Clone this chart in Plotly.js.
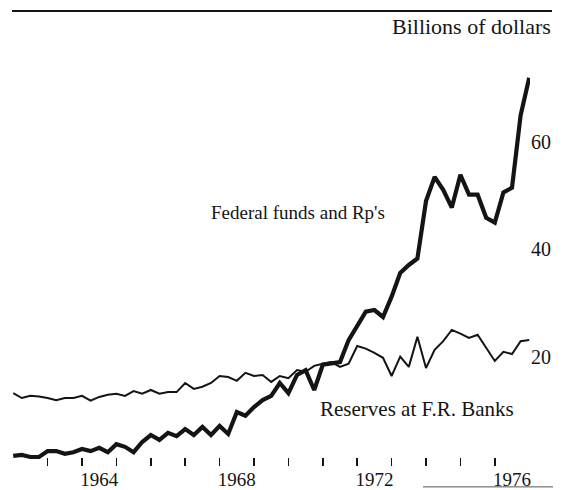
<!DOCTYPE html>
<html>
<head>
<meta charset="utf-8">
<script src="https://cdn.plot.ly/plotly-3.0.1.min.js"></script>
<style>
  html, body { margin: 0; padding: 0; background: #fff; }
  #chart { width: 566px; height: 490px; }
</style>
</head>
<body>
<div id="chart"></div>
<script>
// quarterly observations, 1962 Q1 .. 1977 Q1, billions of dollars
const START_YEAR = 1962;
const fedFunds = [
  1.5, 1.7, 1.3, 1.3, 2.4, 2.4, 1.9, 2.2, 2.8, 2.4,
  3.0, 2.2, 3.7, 3.2, 2.2, 4.1, 5.4, 4.5, 5.8, 5.2,
  6.5, 5.4, 6.9, 5.4, 7.1, 5.6, 9.7, 9.0, 10.6, 11.9,
  12.7, 15.1, 13.2, 16.6, 17.5, 13.8, 18.5, 18.8, 19.0, 23.1,
  25.6, 28.4, 28.7, 27.4, 31.2, 35.6, 37.1, 38.3, 49.0, 53.5,
  51.1, 47.8, 53.9, 50.2, 50.2, 45.9, 45.0, 50.6, 51.5, 65.0,
  72.0
];
const reserves = [
  13.2, 12.3, 12.7, 12.6, 12.3, 11.9, 12.3, 12.3, 12.7, 11.8,
  12.5, 12.9, 13.1, 12.7, 13.6, 13.1, 13.8, 13.1, 13.4, 13.4,
  15.1, 14.0, 14.4, 15.1, 16.4, 16.2, 15.5, 17.0, 16.4, 16.6,
  15.3, 16.4, 16.0, 17.5, 17.2, 18.3, 18.7, 19.0, 18.1, 18.7,
  22.0, 21.5, 20.7, 19.8, 16.4, 20.0, 18.1, 23.7, 17.9, 21.3,
  22.9, 25.0, 24.3, 23.5, 24.1, 21.6, 19.2, 20.9, 20.5, 22.9,
  23.1
];
const yearTicks = [1963, 1964, 1965, 1966, 1967, 1968, 1969, 1970, 1971, 1972, 1973, 1974, 1975, 1976];
const yearLabels = ['1964', '1968', '1972', '1976'];
const valueTicks = [20, 40, 60];

const dates = fedFunds.map((_, i) => START_YEAR + i / 4);
const FONT = 'Liberation Serif, Times New Roman, serif';
const INK = '#141414';

const traces = [
  { x: dates, y: reserves, type: 'scatter', mode: 'lines',
    line: { color: INK, width: 2 }, hoverinfo: 'skip' },
  { x: dates, y: fedFunds, type: 'scatter', mode: 'lines',
    line: { color: INK, width: 4.2 }, hoverinfo: 'skip' },
  // invisible carrier for the year labels on the second x axis
  { x: dates, y: fedFunds, xaxis: 'x2', type: 'scatter', mode: 'lines',
    line: { width: 0 }, opacity: 0, hoverinfo: 'skip' }
];

const X_RANGE = [1961.616, 1977.023];
const layout = {
  width: 566, height: 490,
  margin: { l: 0, r: 36, t: 40, b: 24 },
  paper_bgcolor: '#fff', plot_bgcolor: '#fff',
  showlegend: false,
  font: { family: FONT, color: INK, size: 19 },
  xaxis: {
    range: X_RANGE, tickmode: 'array', tickvals: yearTicks,
    showticklabels: false, ticks: 'inside', ticklen: 8, tickwidth: 1.6, tickcolor: INK,
    showgrid: false, zeroline: false, showline: false
  },
  xaxis2: {
    overlaying: 'x', side: 'bottom', range: X_RANGE, tickmode: 'array',
    tickvals: yearLabels.map(y => +y + 0.5), ticktext: yearLabels, ticks: '',
    showgrid: false, zeroline: false, showline: false,
    tickfont: { family: FONT, size: 19, color: INK }
  },
  yaxis: {
    range: [-0.373, 79.03], side: 'right', tickmode: 'array', tickvals: valueTicks,
    ticks: '', showgrid: false, zeroline: false, showline: false,
    tickfont: { family: FONT, size: 20, color: INK }
  },
  shapes: [
    { type: 'line', xref: 'paper', yref: 'paper', x0: 12 / 530, x1: 552 / 530, y0: 1.068, y1: 1.068,
      line: { color: INK, width: 2 } },
    { type: 'line', xref: 'paper', yref: 'paper', x0: 423 / 530, x1: 553 / 530, y0: -0.049, y1: -0.049,
      line: { color: '#555', width: 1 } }
  ],
  annotations: [
    { text: 'Billions of dollars', xref: 'paper', yref: 'paper', x: 553 / 530, y: 1.031,
      xanchor: 'right', yanchor: 'middle', showarrow: false,
      font: { family: FONT, size: 22, color: INK } },
    { text: "Federal funds and Rp's", xref: 'x', yref: 'y', x: 1970.28, y: 46.8,
      xanchor: 'center', yanchor: 'middle', showarrow: false,
      font: { family: FONT, size: 19, color: INK } },
    { text: 'Reserves at F.R. Banks', xref: 'x', yref: 'y', x: 1973.74, y: 10.25,
      xanchor: 'center', yanchor: 'middle', showarrow: false,
      font: { family: FONT, size: 21, color: INK } }
  ]
};

Plotly.newPlot('chart', traces, layout, { staticPlot: true, displayModeBar: false });
</script>
</body>
</html>
